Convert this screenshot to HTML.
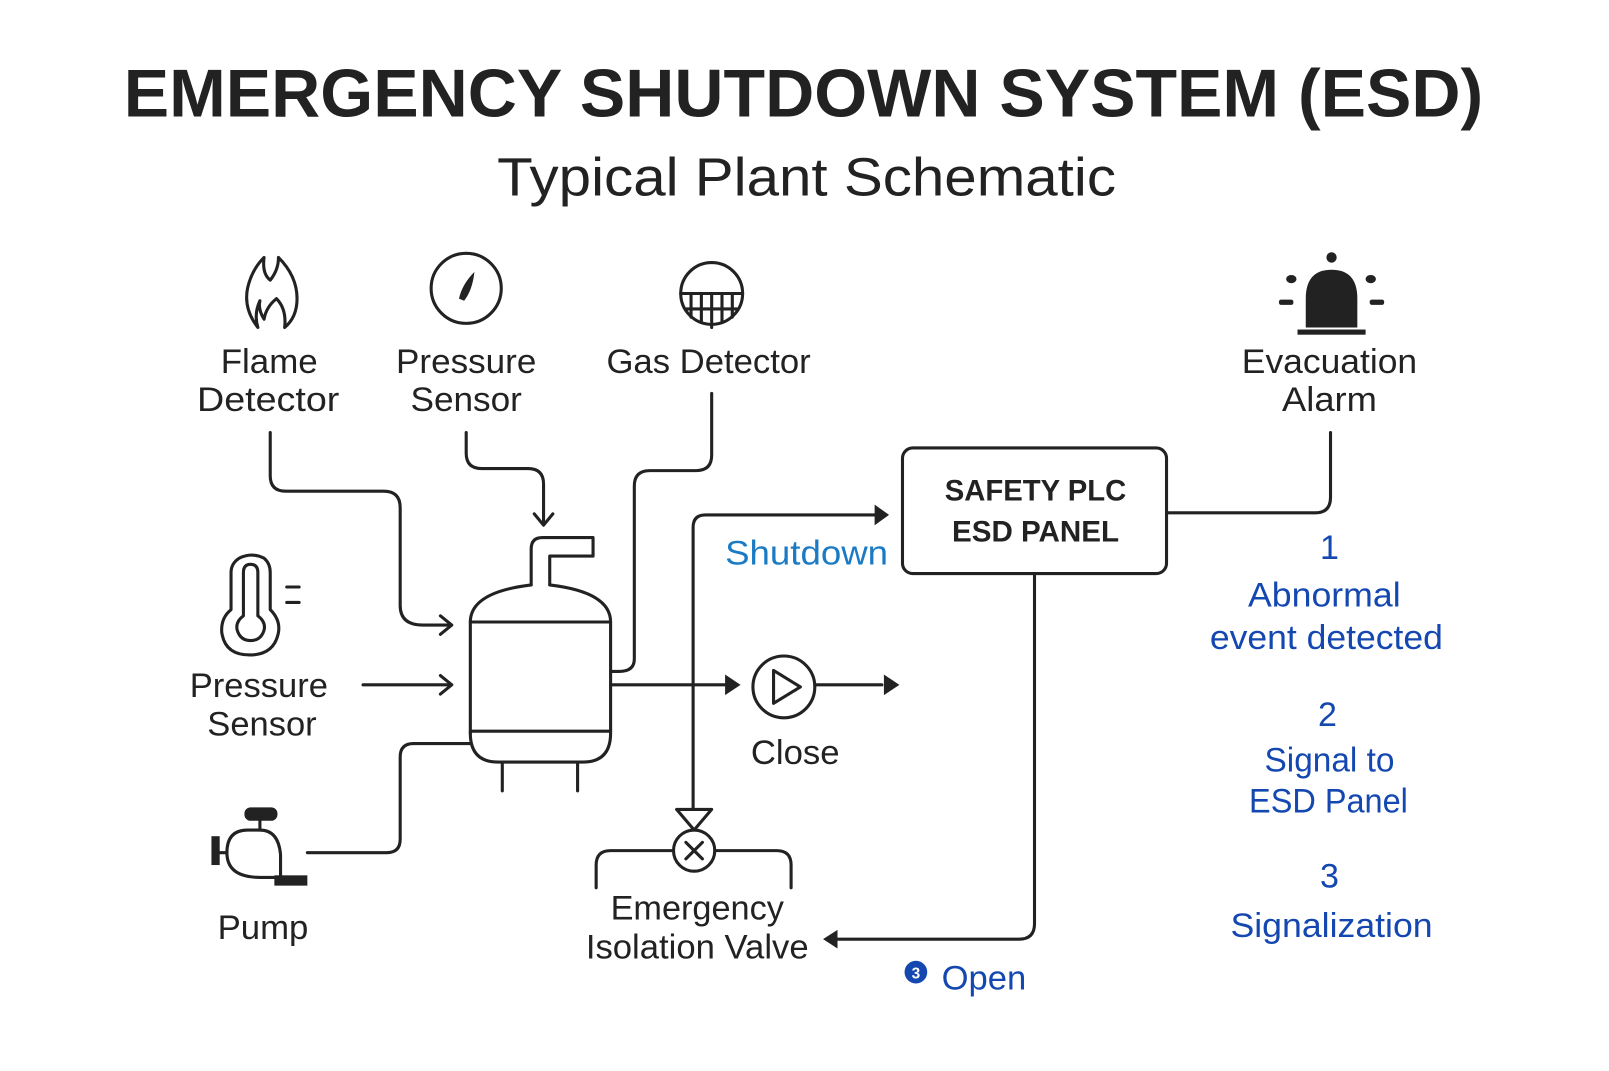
<!DOCTYPE html>
<html><head><meta charset="utf-8"><style>
html,body{margin:0;padding:0;background:#fff;}
svg{display:block;}
text{font-family:"Liberation Sans",sans-serif;}
</style></head><body>
<svg width="1609" height="1071" viewBox="0 0 1560 1040" preserveAspectRatio="none" xmlns="http://www.w3.org/2000/svg">
<rect width="1560" height="1040" fill="#fff"/>
<g fill="#222" text-anchor="middle">
<text x="779" y="113" font-size="66" font-weight="bold" textLength="1318" lengthAdjust="spacingAndGlyphs">EMERGENCY SHUTDOWN SYSTEM (ESD)</text>
<text x="782" y="190" font-size="52" textLength="600" lengthAdjust="spacingAndGlyphs">Typical Plant Schematic</text>
</g>
<g fill="#222" text-anchor="middle" font-size="33">
<text x="261" y="362" textLength="94" lengthAdjust="spacingAndGlyphs">Flame</text>
<text x="260" y="399" textLength="138" lengthAdjust="spacingAndGlyphs">Detector</text>
<text x="452" y="362" textLength="136" lengthAdjust="spacingAndGlyphs">Pressure</text>
<text x="452" y="399" textLength="108" lengthAdjust="spacingAndGlyphs">Sensor</text>
<text x="687" y="362" textLength="198" lengthAdjust="spacingAndGlyphs">Gas Detector</text>
<text x="1289" y="362" textLength="170" lengthAdjust="spacingAndGlyphs">Evacuation</text>
<text x="1289" y="399" textLength="92" lengthAdjust="spacingAndGlyphs">Alarm</text>
<text x="251" y="677" textLength="134" lengthAdjust="spacingAndGlyphs">Pressure</text>
<text x="254" y="714" textLength="106" lengthAdjust="spacingAndGlyphs">Sensor</text>
<text x="255" y="912" textLength="88" lengthAdjust="spacingAndGlyphs">Pump</text>
<text x="771" y="742" textLength="86" lengthAdjust="spacingAndGlyphs">Close</text>
<text x="676" y="893" textLength="168" lengthAdjust="spacingAndGlyphs">Emergency</text>
<text x="676" y="931" textLength="216" lengthAdjust="spacingAndGlyphs">Isolation Valve</text>
</g>
<text x="782" y="548" font-size="33" fill="#1a7bc4" text-anchor="middle" textLength="158" lengthAdjust="spacingAndGlyphs">Shutdown</text>
<g fill="#1448b0" text-anchor="middle" font-size="33">
<text x="1289" y="543">1</text>
<text x="1284" y="589" textLength="148" lengthAdjust="spacingAndGlyphs">Abnormal</text>
<text x="1286" y="630" textLength="226" lengthAdjust="spacingAndGlyphs">event detected</text>
<text x="1287" y="705">2</text>
<text x="1289" y="749" textLength="126" lengthAdjust="spacingAndGlyphs">Signal to</text>
<text x="1288" y="789" textLength="154" lengthAdjust="spacingAndGlyphs">ESD Panel</text>
<text x="1289" y="862">3</text>
<text x="1291" y="910" textLength="196" lengthAdjust="spacingAndGlyphs">Signalization</text>
<text x="954" y="961" textLength="82" lengthAdjust="spacingAndGlyphs">Open</text>
<circle cx="888" cy="944" r="11" fill="#1448b0"/>
<text x="888" y="950" font-size="15" font-weight="bold" fill="#fff">3</text>
</g>
<rect x="875" y="435" width="256" height="122" rx="10" fill="#fff" stroke="#222" stroke-width="3"/>
<g fill="#222" text-anchor="middle" font-size="29" font-weight="bold">
<text x="1004" y="486" textLength="176" lengthAdjust="spacingAndGlyphs">SAFETY PLC</text>
<text x="1004" y="526" textLength="162" lengthAdjust="spacingAndGlyphs">ESD PANEL</text>
</g>
<g fill="none" stroke="#222" stroke-width="3" stroke-linecap="round" stroke-linejoin="round">
<path d="M262 420 V462 Q262 477 277 477 H372 Q388 477 388 493 V588 Q388 607 410 607 H436"/>
<path d="M427 598 L438 607 L427 616"/>
<path d="M452 420 V440 Q452 455 467 455 H512 Q527 455 527 470 V508"/>
<path d="M518 499 L527 510 L536 499"/>
<path d="M690 382 V442 Q690 457 675 457 H630 Q615 457 615 472 V640 Q615 652 600 652 H592"/>
<path d="M352 665 H436"/>
<path d="M427 656 L438 665 L427 674"/>
<path d="M298 828 H375 Q388 828 388 815 V735 Q388 722 401 722 H456"/>
<path d="M592 665 H705"/>
<path d="M790 665 H855"/>
<path d="M672 785 V512 Q672 500 684 500 H848"/>
<path d="M1131 498 H1275 Q1290 498 1290 483 V420"/>
<path d="M1003 558 V897 Q1003 912 988 912 H812"/>
<!-- tank -->
<path d="M456 712 V604 Q456 575 515 568"/>
<path d="M533 568 Q592 575 592 604 V712 Q592 740 565 740 H483 Q456 740 456 712"/>
<path d="M515 568 V533 Q515 522 526 522 H575 V540 H533 V568"/>
<path d="M456 604 H592 M456 710 H592 M487 740 V768 M560 740 V768"/>
<circle cx="760" cy="667" r="30"/>
<path d="M750 651 L776 667 L750 683 Z"/>
<circle cx="673" cy="826" r="20"/>
<path d="M665 818 L681 834 M681 818 L665 834"/>
<path d="M656 786 H690 L673 806 Z"/>
<path d="M653 826 H592 Q578 826 578 840 V862"/>
<path d="M693 826 H753 Q767 826 767 840 V862"/>
<circle cx="452" cy="280" r="34"/>
<path d="M660 285 A30 30 0 1 1 720 285 Z"/>
<path d="M660 285 A30 30 0 0 0 690 315 A30 30 0 0 0 720 285"/>
<path d="M665 300 H715 M670 285 V308 M680 285 V313 M690 285 V318 M700 285 V313 M710 285 V308"/>
<path d="M250 318 Q236 300 240 280 Q244 262 256 250 Q254 266 262 272 Q270 262 270 250 Q288 268 288 290 Q288 308 276 318 Q278 300 268 290 Q258 298 256 310 Q250 300 252 292 Q246 305 250 318 Z"/>
<path d="M232 542 Q244 536 256 542 Q262 547 262 556 V592 Q272 602 270 614 Q266 636 242 636 Q218 636 215 614 Q214 600 224 592 V556 Q224 547 232 542 Z"/>
<path d="M236 556 Q236 548 243 548 Q250 548 250 556 V598 Q258 604 256 612 Q253 622 243 622 Q233 622 230 612 Q228 604 236 598 Z"/>
<path d="M278 570 H290 M278 585 H290"/>
<path d="M220 828 Q220 806 240 806 H252 Q270 806 272 830 V852 H252 Q220 852 220 828 Z"/>
<path d="M252 806 V796"/>
<path d="M212 828 H220"/>
</g>
<g fill="#222">
<path d="M848 490 L862 500 L848 510 Z"/>
<path d="M703 655 L718 665 L703 675 Z"/>
<path d="M857 655 L872 665 L857 675 Z"/>
<path d="M812 903 L798 912 L812 921 Z"/>
<path d="M445 290 Q448 276 460 264 Q458 282 450 292 Z"/>
<path d="M1266 318 V290 Q1266 262 1291 262 Q1316 262 1316 290 V318 Z"/>
<rect x="1258" y="320" width="66" height="5"/>
<circle cx="1291" cy="250" r="5"/>
<rect x="1240" y="291" width="14" height="5" rx="2"/>
<rect x="1328" y="291" width="14" height="5" rx="2"/>
<ellipse cx="1252" cy="271" rx="5" ry="4"/>
<ellipse cx="1329" cy="271" rx="5" ry="4"/>
<rect x="237" y="784" width="32" height="13" rx="6"/>
<rect x="205" y="812" width="8" height="28"/>
<rect x="266" y="850" width="32" height="10"/>
</g>
</svg>
</body></html>
